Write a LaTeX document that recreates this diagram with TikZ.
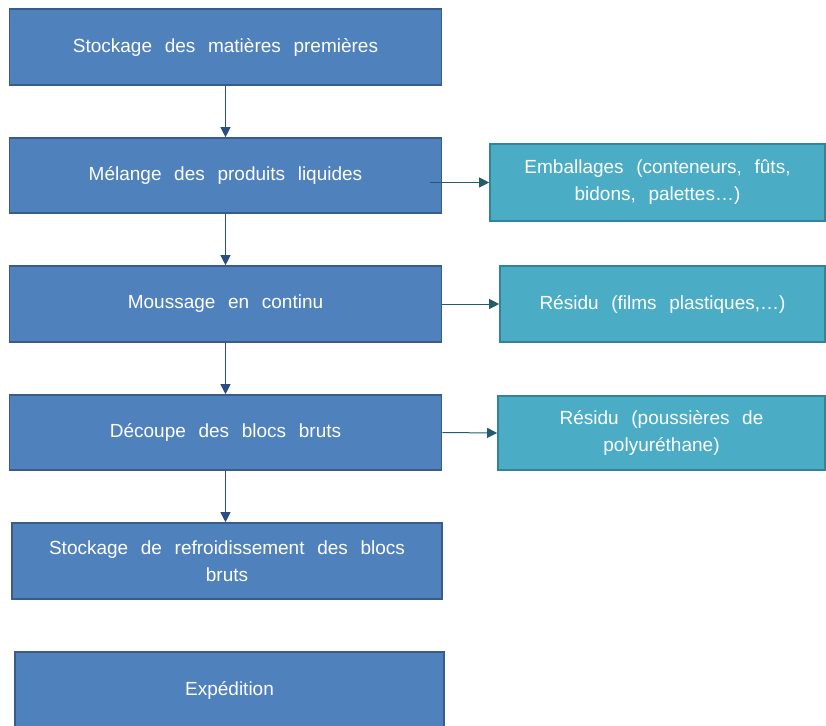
\documentclass[tikz,border=0pt]{standalone}
\usepackage{fontspec}
\setmainfont{Liberation Sans}[WordSpace=2.4]
\usetikzlibrary{arrows.meta, positioning}
\definecolor{mainfill}{HTML}{4F81BD}
\definecolor{mainline}{HTML}{385D8A}
\definecolor{sidefill}{HTML}{4BACC6}
\definecolor{sideline}{HTML}{31849B}
\definecolor{downarrow}{HTML}{2A4E7F}
\definecolor{sidearrow}{HTML}{235D6C}
\tikzset{
    etape/.style={draw=mainline, fill=mainfill, line width=1.6pt, text=white,
        minimum width=432pt, minimum height=76pt, inner sep=0pt, align=center,
        font=\fontsize{19}{27}\selectfont},
    dechet/.style={draw=sideline, fill=sidefill, line width=1.6pt, text=white,
        minimum height=76pt, inner sep=0pt, align=center,
        font=\fontsize{19}{27}\selectfont},
    fleche/.style={draw=downarrow, line width=1pt, -{Triangle[length=10pt, width=10pt]}},
    flechedroite/.style={draw=sidearrow, line width=1pt, -{Triangle[length=10pt, width=10pt]}}
}
\begin{document}
\begin{tikzpicture}[x=1pt, y=-1pt]
    \useasboundingbox (0,0) rectangle (826,725);
    \clip (0,0) rectangle (826,725);

        % Etapes du procede
        \node[etape] (stock) at (225.5,47) {Stockage des matières premières};
        \node[etape, minimum height=75pt] (melange) at (225.5,175.5) {Mélange des produits liquides};
        \node[etape] (mousse) at (225.5,304) {Moussage en continu};
        \node[etape, minimum height=75pt] (decoupe) at (225.5,432.5) {Découpe des blocs bruts};
        \node[etape, minimum width=430pt] (refroid) at (227,561) {Stockage de refroidissement des blocs\\bruts};
        \node[etape, minimum width=429pt] (expe) at (229.5,690) {Expédition};

        % Dechets
        \node[dechet, minimum width=335pt, minimum height=77pt] (emball) at (657.5,182.5) {Emballages (conteneurs, fûts,\\bidons, palettes…)};
        \node[dechet, minimum width=325pt] (films) at (662.5,304) {Résidu (films plastiques,…)};
        \node[dechet, minimum width=327pt, minimum height=74pt] (pouss) at (661.5,433) {Résidu (poussières de\\polyuréthane)};

        % Fleches verticales
        \draw[fleche] (stock.south) -- (melange.north);
        \draw[fleche] (melange.south) -- (mousse.north);
        \draw[fleche] (mousse.south) -- (decoupe.north);
        \draw[fleche] (decoupe.south) -- (refroid.north -| decoupe.south);

        % Fleches vers les dechets
        \coordinate (depart) at (430,182.5);
        \draw[flechedroite] (depart) -- (emball.west);
        \draw[flechedroite] (mousse.east) -- (films.west);
        \draw[flechedroite] (decoupe.east) -- (pouss.west);
    \end{tikzpicture}
\end{document}
